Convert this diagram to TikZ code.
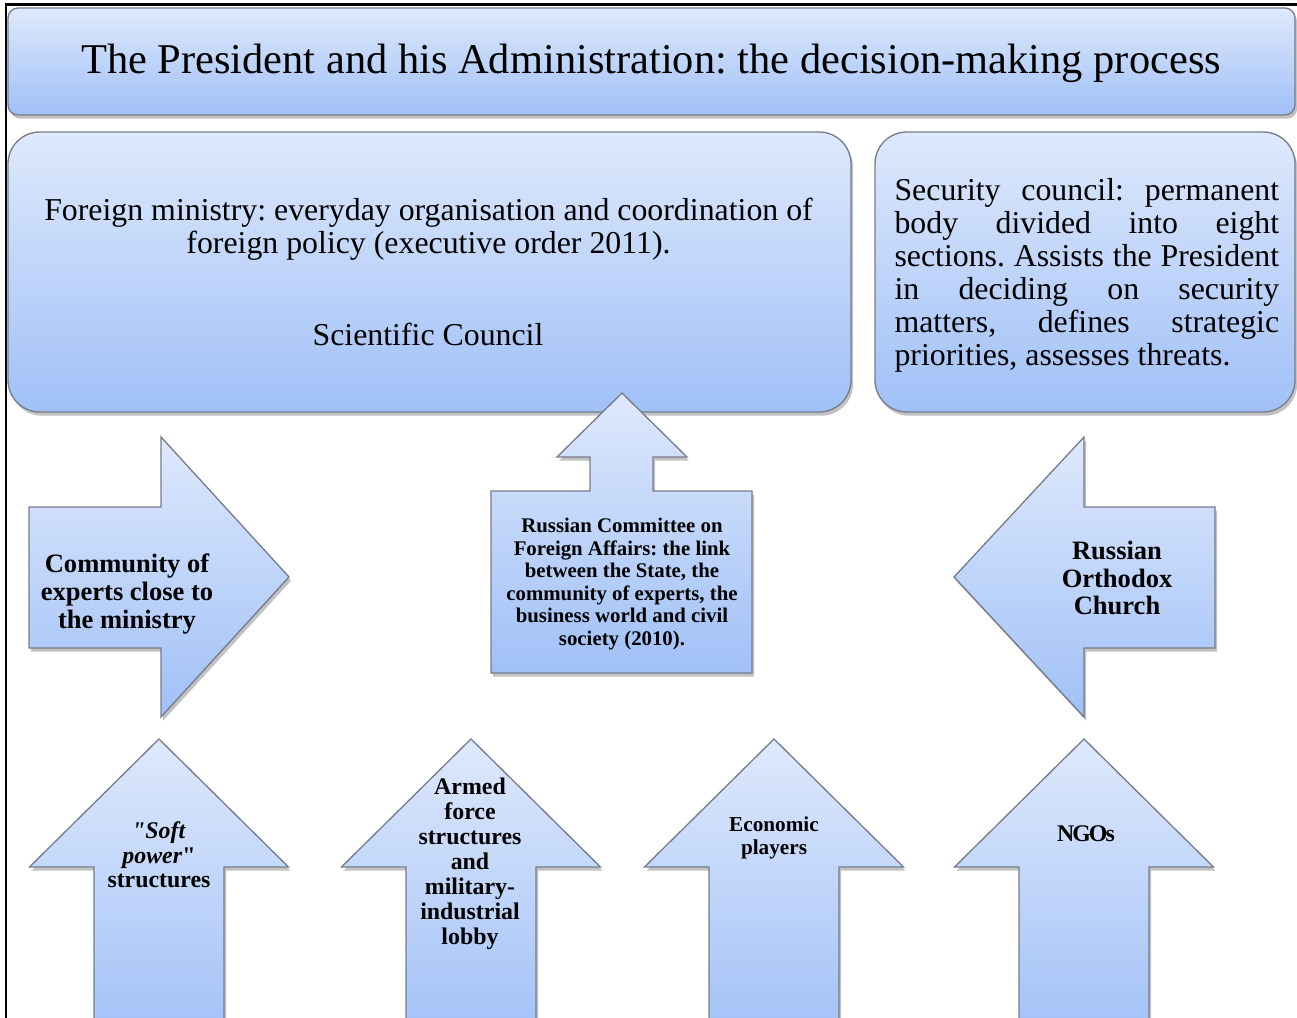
\documentclass[tikz,border=0pt]{standalone}
\usepackage{fontspec}
\setmainfont{Liberation Serif}[Ligatures=TeXOff]
\usetikzlibrary{shadows}
\frenchspacing

\definecolor{paneltop}{RGB}{222,233,252}
\definecolor{panelbot}{RGB}{160,192,247}
\definecolor{paneledge}{RGB}{118,124,138}

\tikzset{
  panel/.style={draw=paneledge, line width=0.5pt, top color=paneltop, bottom color=panelbot,
    drop shadow={shadow xshift=0.8pt, shadow yshift=-1.4pt, opacity=0.4, fill=black!60}},
  lbl/.style={inner sep=0pt, align=center},
}

\begin{document}
\begin{tikzpicture}[x=0.377pt,y=-0.377pt]
\useasboundingbox (0,0) rectangle (1297,1018);
\clip (0,0) rectangle (1297,1018);

% frame
\draw[line width=0.8pt] (6,1030) -- (6,4.5) -- (1310,4.5);

% title bar, ministry and security council
\path[panel, rounded corners=3.8pt] (8,8) rectangle (1295,115);
\path[panel, rounded corners=12pt] (8,132) rectangle (851,412);
\path[panel, rounded corners=12pt] (875,132) rectangle (1295,412);

% committee box with arrow up
\coordinate (A) at (491,673);
\coordinate (B) at (752,491);
\coordinate (T) at (622,393);
\path[panel] (A) -- (A |- B) -- (590,491) -- (590,457) -- (557,457) -- (T)
  -- (687,457) -- (653,457) -- (653,491) -- (B) -- (B |- A) -- cycle;

% side arrows
\path[panel] (29,507) -- (161,507) -- (161,437) -- (289,577) -- (161,717) -- (161,648) -- (29,648) -- cycle;
\path[panel] (1215,507) -- (1084,507) -- (1084,437) -- (954,577) -- (1084,717) -- (1084,648) -- (1215,648) -- cycle;

% arrows from below
\foreach \cx in {159,471,774,1084}
  \path[panel] (\cx,739) -- (\cx+129.5,867) -- (\cx+65,867) -- (\cx+65,1045)
    -- (\cx-65,1045) -- (\cx-65,867) -- (\cx-129.5,867) -- cycle;

% texts
\node[anchor=base, inner sep=0pt, font=\fontsize{16}{19}\selectfont] (title) at (651,74)
  {The President and his Administration: the decision-making process};
\node[lbl, font=\fontsize{12}{12.35}\selectfont] (mfa) at (428.5,229)
  {Foreign ministry: everyday organisation and coordination of\\ foreign policy (executive order 2011).};
\node[anchor=base, inner sep=0pt, font=\fontsize{12}{14}\selectfont] (sci) at (428,345) {Scientific Council};
\node[anchor=north west, inner sep=0pt, text width=145pt, align=justify, font=\fontsize{12}{12.45}\selectfont] (secu) at (894,178)
  {Security council: permanent\linebreak body divided into eight\linebreak sections. Assists the President\linebreak
   in deciding on security\linebreak matters, defines strategic\linebreak priorities, assesses threats.};

\node[lbl, font=\fontsize{7.85}{8.5}\selectfont\bfseries] (rcfa) at (622,584)
  {Russian Committee on\\ Foreign Affairs: the link\\ between the State, the\\ community of experts, the\\ business world and civil\\ society (2010).};
\node[lbl, font=\fontsize{10}{10.55}\selectfont\bfseries] (experts) at (127,594)
  {Community of\\ experts close to\\ the ministry};
\node[lbl, font=\fontsize{10}{10.4}\selectfont\bfseries] (church) at (1117,578)
  {Russian\\ Orthodox\\ Church};

\node[lbl, font=\fontsize{9}{9.3}\selectfont\bfseries] (soft) at (159,855)
  {\textit{"Soft}\\ \textit{power}"\\ structures};
\node[lbl, font=\fontsize{9}{9.45}\selectfont\bfseries] (armed) at (470,863.5)
  {Armed\\ force\\ structures\\ and\\ military-\\ industrial\\ lobby};
\node[lbl, font=\fontsize{8}{8.7}\selectfont\bfseries] (econ) at (774,837.5)
  {Economic\\ players};
\node[lbl, font=\fontsize{9}{10}\selectfont\bfseries] (ngo) at (1086,834)
  {N\kern-0.7pt G\kern-0.8pt O\kern-0.7pt s};
\end{tikzpicture}
\end{document}
